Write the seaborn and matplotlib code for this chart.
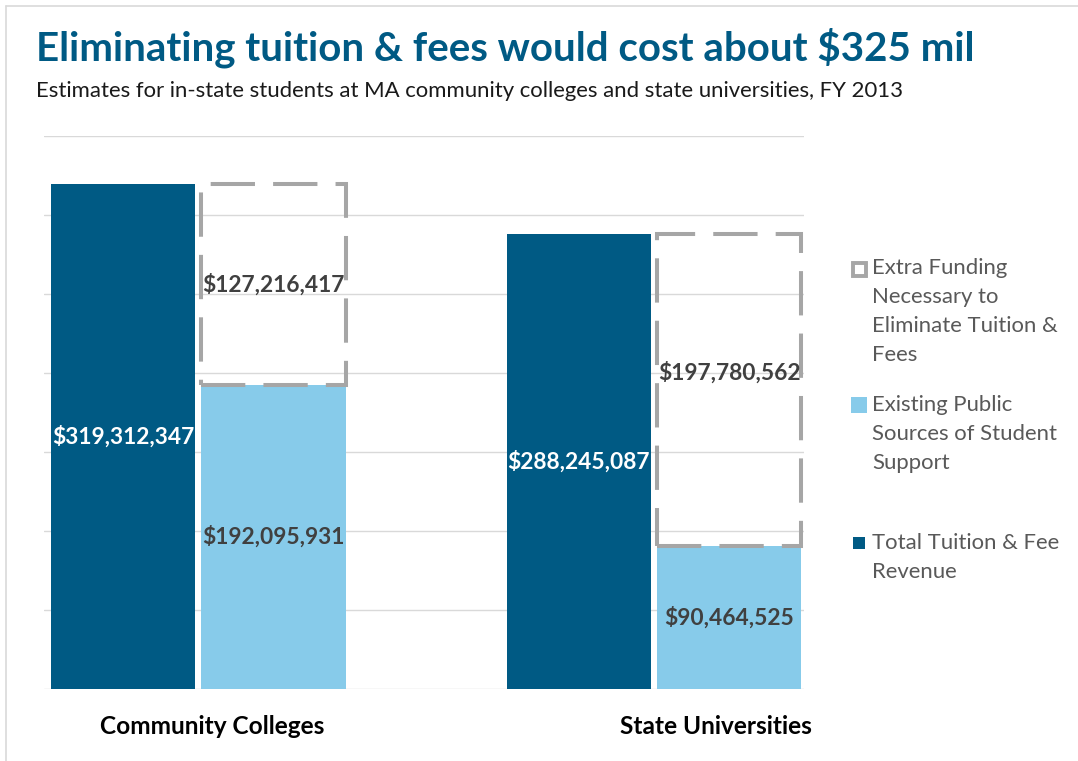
import matplotlib
matplotlib.use("Agg")
import matplotlib.pyplot as plt
import seaborn as sns
import pandas as pd
from matplotlib.patches import Rectangle
from matplotlib.lines import Line2D
from matplotlib.transforms import ScaledTranslation

# ---------------- data ----------------
categories = ["Community Colleges", "State Universities"]
total_revenue = [319312347, 288245087]
existing_support = [192095931, 90464525]
extra_funding = [127216417, 197780562]
series_names = ["Total Tuition & Fee Revenue",
                "Existing Public Sources of Student Support",
                "Extra Funding Necessary to Eliminate Tuition & Fees"]
legend_lines = [["Extra Funding", "Necessary to", "Eliminate Tuition &", "Fees"],
                ["Existing Public", "Sources of Student", "Support"],
                ["Total Tuition & Fee", "Revenue"]]
y_ticks = [0, 50e6, 100e6, 150e6, 200e6, 250e6, 300e6, 350e6]
title = "Eliminating tuition & fees would cost about $325 mil"
subtitle = "Estimates for in-state students at MA community colleges and state universities, FY 2013"

# ---------------- style ----------------
DARK = "#005A84"
LIGHT = "#87CBEA"
GRAY = "#A6A6A6"
TITLE_C = "#005A84"
LABEL_C = "#404040"
LEG_C = "#595959"
GRID_C = "#D9D9D9"

W, H, DPI = 1078, 761, 100
sns.set_theme(style="white")
plt.rcParams["font.family"] = ["Lato", "DejaVu Sans"]

fig = plt.figure(figsize=(W / DPI, H / DPI), dpi=DPI)
fig.patch.set_facecolor("white")


def fx(px):
    return px / W


def fy(py):
    return 1 - py / H


ax = fig.add_axes([fx(44), fy(688.7), fx(804) - fx(44), fy(136) - fy(688.7)])

df = pd.DataFrame({
    "category": categories * 2,
    "series": [series_names[0]] * len(categories) + [series_names[1]] * len(categories),
    "value": total_revenue + existing_support,
})
sns.barplot(data=df, x="category", y="value", hue="series", order=categories,
            hue_order=series_names[:2], palette=[DARK, LIGHT], saturation=1,
            width=0.66, gap=0.04, linewidth=0, legend=False, errorbar=None, ax=ax)

bars = list(ax.patches)
dark_bars = bars[:len(categories)]
light_bars = bars[len(categories):2 * len(categories)]
light_x = [p.get_x() + p.get_width() / 2 for p in light_bars]
dark_x = [p.get_x() + p.get_width() / 2 for p in dark_bars]
bw = light_bars[0].get_width()

ax.bar(light_x, extra_funding, bottom=existing_support, width=bw, fill=False,
       edgecolor=GRAY, linewidth=2.9, linestyle=(0, (11, 4.5)), zorder=3)

ax.set_ylim(0, 350e6)
ax.set_xlim(-0.338, 1.329)
ax.set_yticks(y_ticks)
ax.set_axisbelow(True)
ax.yaxis.grid(True, color=GRID_C, linewidth=1)
ax.xaxis.grid(False)
ax.tick_params(axis="y", left=False, labelleft=False)
ax.tick_params(axis="x", length=0, pad=19)
for s in ax.spines.values():
    s.set_visible(False)
ax.set_xlabel("")
ax.set_ylabel("")
ax.set_xticks(range(len(categories)))
ax.set_xticklabels(categories, fontsize=17.6, fontweight="bold", color="black")
for lab, dx in zip(ax.get_xticklabels(), [14, 62]):
    lab.set_transform(lab.get_transform() + ScaledTranslation(dx / DPI, 0, fig.dpi_scale_trans))

# value labels
VFS = 16.4
fmt = lambda v: f"${v:,.0f}"
for x, v in zip(dark_x, total_revenue):
    ax.text(x, v / 2, fmt(v), ha="center", va="center", color="white",
            fontsize=VFS, fontweight="bold", zorder=5)
for x, v in zip(light_x, existing_support):
    ax.text(x, v / 2, fmt(v), ha="center", va="center", color=LABEL_C,
            fontsize=VFS, fontweight="bold", zorder=5)
for i, (x, b, v) in enumerate(zip(light_x, existing_support, extra_funding)):
    off = 0 if i == 0 else 17
    ax.annotate(fmt(v), (x, b + v / 2), xytext=(0, off), textcoords="offset pixels",
                ha="center", va="center", color=LABEL_C, fontsize=VFS,
                fontweight="bold", zorder=5)

# titles
fig.text(fx(36), fy(60), title, fontsize=29, fontweight="bold", color=TITLE_C, va="baseline")
fig.text(fx(36), fy(97), subtitle, fontsize=15.9, color="#1A1A1A", va="baseline")

# legend (manual, right side)
leg_text_x = 872
leg_line_y = [[268, 297, 326, 355], [405, 434, 463], [543, 572]]
for lines, ys in zip(legend_lines, leg_line_y):
    for t, yy in zip(lines, ys):
        fig.text(fx(leg_text_x), fy(yy), t, fontsize=15.9, color=LEG_C, va="center", ha="left")

# legend icons
fig.patches.append(Rectangle((fx(852.5), fy(275.5)), fx(13), 13 / H, transform=fig.transFigure,
                             facecolor="white", edgecolor=GRAY, linewidth=2.8))
fig.patches.append(Rectangle((fx(851), fy(413)), fx(16), 16 / H, transform=fig.transFigure,
                             facecolor=LIGHT, edgecolor="none"))
fig.patches.append(Rectangle((fx(853), fy(549)), fx(12), 12 / H, transform=fig.transFigure,
                             facecolor=DARK, edgecolor="none"))

# outer frame (top and left edges)
fig.add_artist(Line2D([fx(6), 1], [fy(6), fy(6)], color=GRID_C, linewidth=1.2, transform=fig.transFigure))
fig.add_artist(Line2D([fx(6), fx(6)], [fy(6), 0], color=GRID_C, linewidth=1.2, transform=fig.transFigure))

fig.savefig("out.png", dpi=DPI, facecolor="white")
